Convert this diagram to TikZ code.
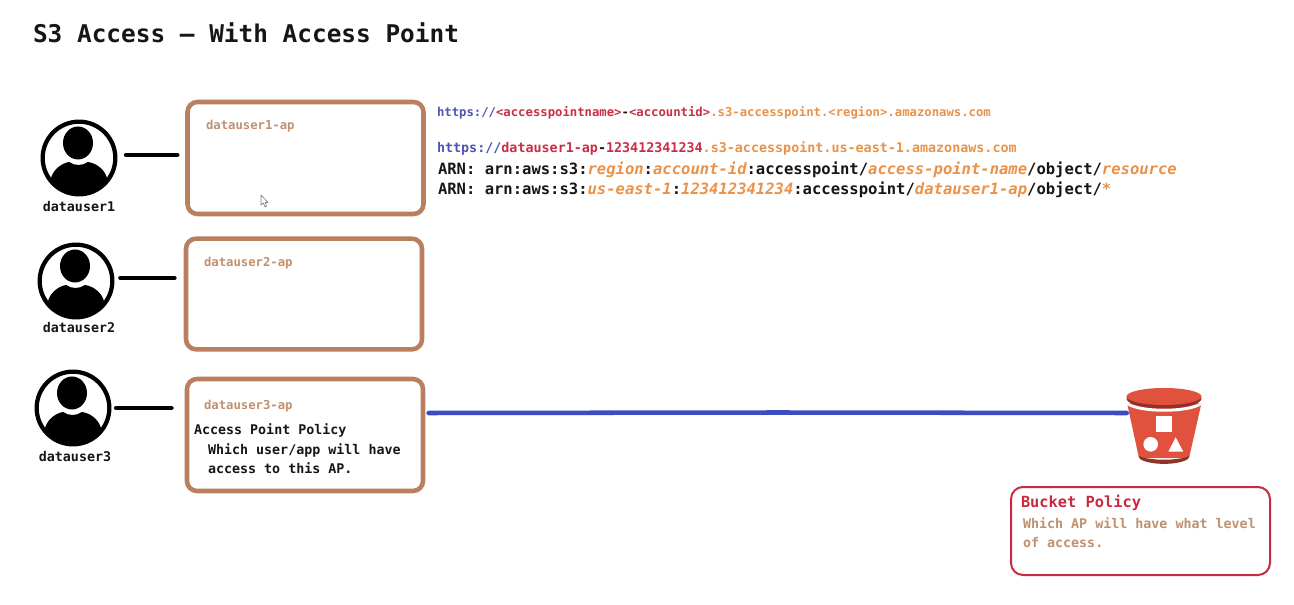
\documentclass[tikz,border=0pt]{standalone}
\usepackage{fontspec}
\setmainfont{DejaVu Sans Mono}
\definecolor{boxbrown}{HTML}{BA7F5E}
\definecolor{lbl}{HTML}{C0906F}
\definecolor{urlblue}{HTML}{4F55B4}
\definecolor{urlred}{HTML}{C92E45}
\definecolor{urlorange}{HTML}{E99248}
\definecolor{ink}{HTML}{161616}
\definecolor{linkblue}{HTML}{3C4CC2}
\definecolor{bkfill}{HTML}{E0523E}
\definecolor{bkdark}{HTML}{8E3325}
\definecolor{polred}{HTML}{C82A40}
\newcommand{\Bl}[1]{\textcolor{urlblue}{#1}}
\newcommand{\Rd}[1]{\textcolor{urlred}{#1}}
\newcommand{\Or}[1]{\textcolor{urlorange}{#1}}
\newcommand{\OrI}[1]{\textcolor{urlorange}{\itshape #1}}
\tikzset{
  txt/.style={inner sep=0pt, outer sep=0pt, anchor=base west, font=\bfseries\fontsize{10}{12}\selectfont, text=ink},
  aplabel/.style={txt, text=lbl, font=\bfseries\fontsize{9.2}{11}\selectfont},
  usr/.style={txt, anchor=base, font=\bfseries\fontsize{10}{12}\selectfont},
  apbox/.style={draw=boxbrown, line width=3.4pt, rounded corners=7.5pt, fill=white, inner sep=0pt},
  polbox/.style={draw=polred, line width=1.5pt, rounded corners=9pt, inner sep=0pt},
  ring/.style={circle, draw=black, line width=3.2pt, minimum size=54.5pt, inner sep=0pt, fill=white},
  conn/.style={line width=3.4pt, black, line cap=round},
  blue link/.style={line width=3.4pt, linkblue, line cap=round},
  persona/.pic={
    \fill[black] (-1,-15) ellipse[x radius=15, y radius=16.5];
    \begin{scope}
      \clip (0,0) circle[radius=36];
      \fill[black] (-34,40) -- (-28,20) .. controls (-25,10) and (-16,5) .. (-10,4)
        .. controls (-4,8) and (3,8) .. (9,4)
        .. controls (16,5) and (25,10) .. (28,20) -- (34,40) -- cycle;
    \end{scope}
  }
}
\begin{document}
\begin{tikzpicture}[x=0.75pt,y=-0.75pt]
\useasboundingbox (0,0) rectangle (1294,605);
\fill[white] (0,0) rectangle (1294,605);

\node[txt, font=\bfseries\fontsize{18.3}{22}\selectfont] (title) at (33,43) {S3 Access – With Access Point};

% users
\node[ring] (u1) at (79,158) {};
\pic at (u1) {persona};
\node[ring] (u2) at (76,281) {};
\pic at (u2) {persona};
\node[ring] (u3) at (73,408) {};
\pic at (u3) {persona};
\node[usr] (n1) at (79,212) {datauser1};
\node[usr] (n2) at (79,333) {datauser2};
\node[usr] (n3) at (75,461) {datauser3};

% access point boxes
\node[apbox, minimum width=177pt, minimum height=84pt] (b1) at (305.5,158) {};
\node[apbox, minimum width=177pt, minimum height=83pt] (b2) at (304,294) {};
\node[apbox, minimum width=177pt, minimum height=84pt] (b3) at (305,435) {};
\node[aplabel] (l1) at (206,130) {datauser1-ap};
\node[aplabel] (l2) at (204,267) {datauser2-ap};
\node[aplabel] (l3) at (204,409) {datauser3-ap};
\node[txt] (p0) at (194,434) {Access Point Policy};
\node[txt] (p1) at (208,454.5) {Which user/app will have};
\node[txt] (p2) at (208,473.5) {access to this AP.};

% user to box connectors
\coordinate (y1) at (150,155);
\coordinate (y2) at (150,278);
\coordinate (y3) at (150,408);
\draw[conn, shorten <=6.5pt, shorten >=6pt] (u1.east |- y1) -- (b1.west |- y1);
\draw[conn, shorten <=4.5pt, shorten >=7pt] (u2.east |- y2) -- (b2.west |- y2);
\draw[conn, shorten <=3.5pt, shorten >=10pt] (u3.east |- y3) -- (b3.west |- y3);

% cursor
\draw[gray, line width=0.5pt, fill=white, line join=round] (261,195) -- (261,205) -- (263.3,203) -- (265,207) -- (266.5,206) -- (265,202.5) -- (268,202.5) -- cycle;

% URLs
\node[txt, font=\bfseries\fontsize{9.2}{11}\selectfont] (url1) at (437,116.5)
  {\Bl{https://}\Rd{<accesspointname>}\textcolor{ink}{-}\Rd{<accountid>}\Or{.s3-accesspoint.<region>.amazonaws.com}};
\node[txt, font=\bfseries\fontsize{10.03}{12}\selectfont] (url2) at (437,153)
  {\Bl{https://}\Rd{datauser1-ap}\textcolor{ink}{-}\Rd{123412341234}\Or{.s3-accesspoint.us-east-1.amazonaws.com}};
\node[txt, font=\bfseries\fontsize{11.65}{14}\selectfont] (arn1) at (438,175)
  {ARN: arn:aws:s3:\OrI{region}:\OrI{account-id}:accesspoint/\OrI{access-point-name}/object/\OrI{resource}};
\node[txt, font=\bfseries\fontsize{11.65}{14}\selectfont] (arn2) at (438,195)
  {ARN: arn:aws:s3:\OrI{us-east-1}:\OrI{123412341234}:accesspoint/\OrI{datauser1-ap}/object/\OrI{*}};

% bucket
\node[inner sep=0pt, minimum width=55.5pt, minimum height=57pt] (bucket) at (1164,426) {};
\fill[bkfill] (1127,403) -- (1139,458) -- (1189,458) -- (1201.5,403) -- cycle;
\fill[bkdark] (1139,456) -- (1140,459) .. controls (1150,465.5) and (1178,465.5) .. (1188,459) -- (1189,456) .. controls (1178,461) and (1150,461) .. (1139,456) -- cycle;
\fill[white] (1127,402) .. controls (1140,411) and (1188,411) .. (1201.5,402) -- (1201.5,405) .. controls (1188,414) and (1140,414) .. (1127,405) -- cycle;
\fill[bkdark] (1164,398.5) ellipse[x radius=37.5, y radius=10];
\fill[bkfill] (1164,396.5) ellipse[x radius=37.5, y radius=8.5];
\fill[white] (1155.7,415.7) rectangle (1171.7,431.7);
\fill[white] (1150.7,444.3) circle[radius=7.3];
\fill[white] (1175.7,437.3) -- (1168.3,451.7) -- (1183.3,451.7) -- cycle;

% long link
\coordinate (yb) at (600,413);
\draw[blue link, shorten <=2.5pt] (b3.east |- yb) -- (778,412.5) -- (bucket.west |- yb);

% bucket policy
\node[polbox, minimum width=194.25pt, minimum height=66pt] (pol) at (1140.5,531) {};
\node[txt, text=polred, font=\bfseries\fontsize{11.5}{14}\selectfont] (pt) at (1021,507.5) {Bucket Policy};
\node[aplabel, font=\bfseries\fontsize{10}{12}\selectfont] (pa) at (1023,528) {Which AP will have what level};
\node[aplabel, font=\bfseries\fontsize{10}{12}\selectfont] (pb) at (1023,547.5) {of access.};
\end{tikzpicture}
\end{document}
